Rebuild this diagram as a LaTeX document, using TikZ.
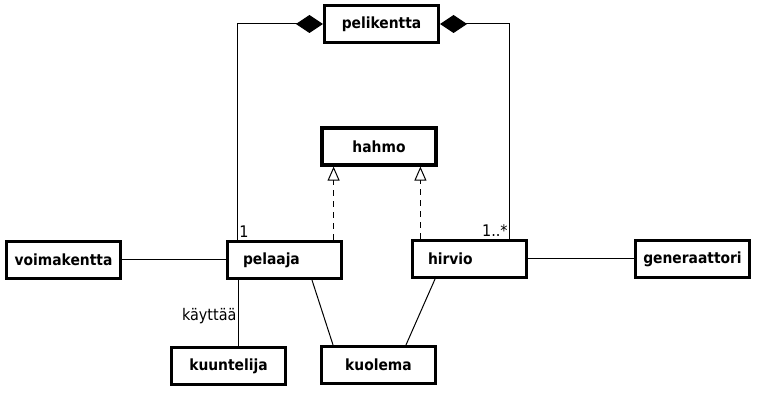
\documentclass[tikz,border=0pt]{standalone}
\usepackage{fontspec}
\setmainfont{DejaVu Sans Condensed}
\usetikzlibrary{arrows.meta}
\tikzstyle{cls} = [rectangle, draw, line width=3.2pt, minimum width=114pt,
    minimum height=37pt, inner sep=0pt, font=\bfseries\fontsize{15.4}{17}\selectfont]
\tikzstyle{clsl} = [cls, text width=83pt, inner xsep=15.5pt, align=left]
\tikzstyle{mult} = [font=\fontsize{16}{18}\selectfont, inner sep=1.5pt]
\tikzstyle{aggr} = [-{Diamond[length=27pt,width=18pt]}]
\tikzstyle{real} = [dash pattern=on 6pt off 5pt, -{Triangle[open,length=14pt,width=12pt]}]

\begin{document}
\begin{tikzpicture}[x=1pt,y=-1pt,line width=1pt]
  \useasboundingbox (0,0) rectangle (770,411);
  \node[cls]  (pelikentta)   at (381.5,24)  {pelikentta};
  \node[cls]  (hahmo)        at (379,146.5) {hahmo};
  \node[clsl] (pelaaja)      at (284.5,260) {pelaaja};
  \node[clsl] (hirvio)       at (469.5,259) {hirvio};
  \node[cls]  (voimakentta)  [left of=pelaaja, node distance=221pt] {voimakentta};
  \node[cls]  (generaattori) [right of=hirvio, node distance=223pt] {generaattori};
  \node[cls]  (kuuntelija)   at (228.5,366) {kuuntelija};
  \node[cls]  (kuolema)      at (378.5,365) {kuolema};

  % end points on the box borders
  \coordinate (pl-agg)  at ([xshift=11.5pt]pelaaja.north west);
  \coordinate (hi-agg)  at ([xshift=-18.5pt]hirvio.north east);
  \coordinate (pl-real) at ([xshift=-9.5pt]pelaaja.north east);
  \coordinate (hi-real) at ([xshift=9.5pt]hirvio.north west);
  \coordinate (pl-use)  at ([xshift=12.5pt]pelaaja.south west);

  \draw[aggr] (pl-agg) node[mult, above right] {1} |- (pelikentta.west);
  \draw[aggr] (hi-agg) node[mult, above left] {1..*} |- (pelikentta.east);
  \draw[real] (pl-real) -- (pl-real |- hahmo.south);
  \draw[real] (hi-real) -- (hi-real |- hahmo.south);

  \path (voimakentta) edge (pelaaja)
        (hirvio) edge (generaattori)
        (pl-use) edge node[mult, left, pos=0.55] {käyttää} (pl-use |- kuuntelija.north)
        ([xshift=27.5pt]pelaaja.south) edge ([xshift=-45.5pt]kuolema.north)
        ([xshift=-34.5pt]hirvio.south) edge ([xshift=27.5pt]kuolema.north);
\end{tikzpicture}
\end{document}
